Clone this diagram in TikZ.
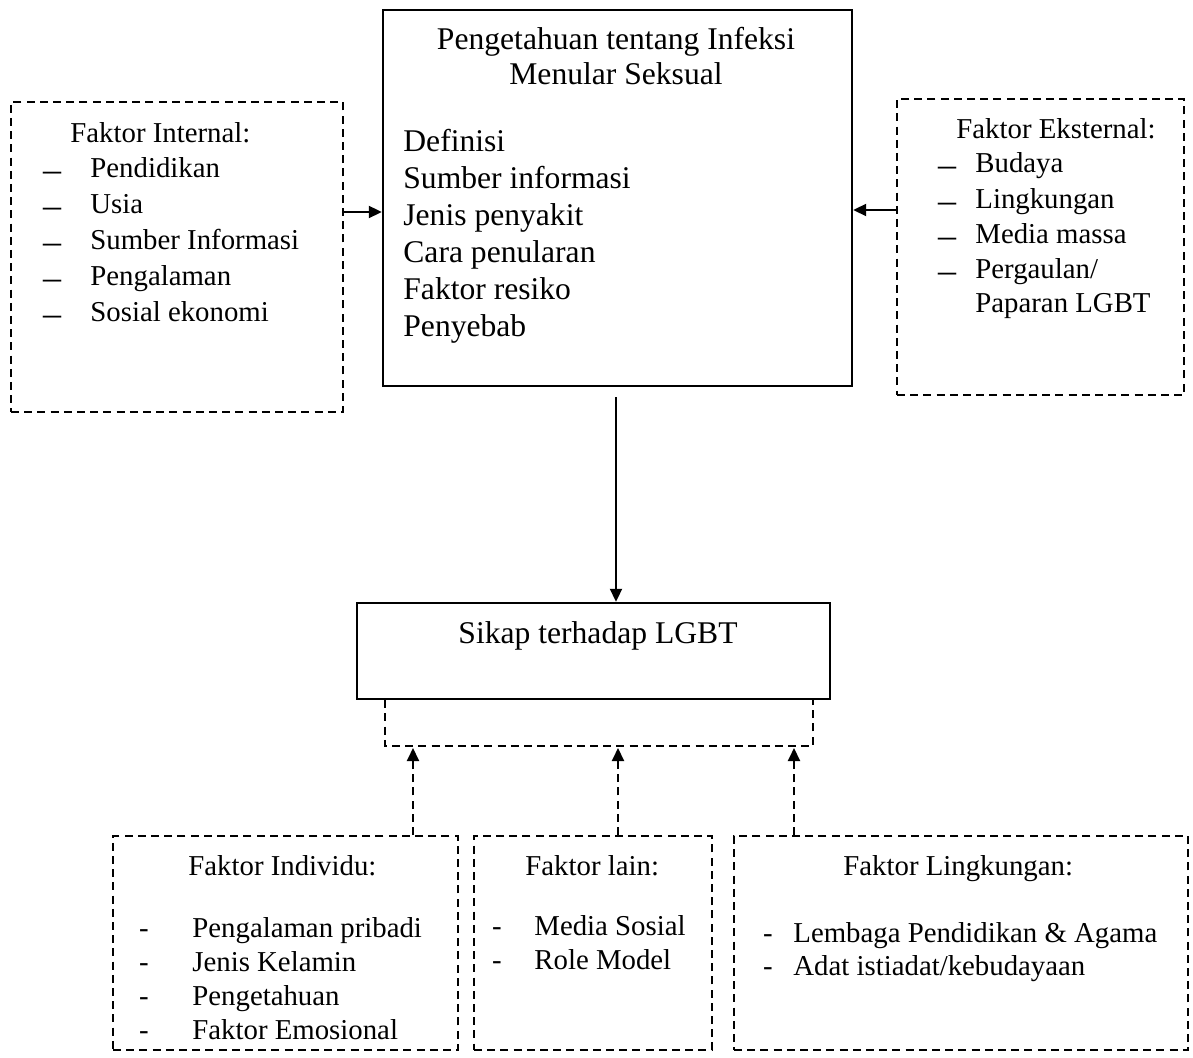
\documentclass[tikz,border=0pt]{standalone}
\usepackage{fontspec}
\setmainfont{Liberation Serif}
\usetikzlibrary{arrows.meta,fit}
\begin{document}
\begin{tikzpicture}[x=0.5pt,y=-0.5pt,
 solidbox/.style={draw, line width=1.2pt, inner sep=0pt},
 dashbox/.style={draw, line width=1pt, dash pattern=on 4pt off 2.6pt, inner sep=0pt},
 arr/.style={-{Triangle[length=6.5pt,width=6pt]}, line width=1pt},
 darr/.style={arr, dash pattern=on 4pt off 2.6pt},
 dline/.style={line width=1pt, dash pattern=on 4pt off 2.6pt},
 bigtxt/.style={inner sep=0pt, font=\fontsize{15.8}{19}\selectfont},
 midtxt/.style={inner sep=0pt, font=\fontsize{14.4}{17}\selectfont},
 dashtxt/.style={inner sep=0pt, font=\fontsize{18}{20}\selectfont},
 smtxt/.style={inner sep=0pt, font=\fontsize{14.4}{17}\selectfont},
]
\useasboundingbox (0,0) rectangle (1193,1058);
\fill[white] (0,0) rectangle (1193,1058);

% boxes
\node[dashbox, fit={(11,102)(343,412)}] (int) {};
\node[solidbox, fit={(383,10)(852,386)}] (ctr) {};
\node[dashbox, fit={(897,99)(1184,395)}] (ext) {};
\node[solidbox, fit={(357,603)(830,699)}] (sik) {};
\node[dashbox, fit={(113,836)(458,1050)}] (ind) {};
\node[dashbox, fit={(474,836)(712,1050)}] (lain) {};
\node[dashbox, fit={(734,836)(1188,1050)}] (ling) {};

% internal
\node[midtxt, anchor=base west] (intT) at (70,143) {Faktor Internal:};
\foreach \t/\y [count=\i] in {Pendidikan/178, Usia/214, Sumber Informasi/250, Pengalaman/286, Sosial ekonomi/322} {
  \node[dashtxt, anchor=base] (intD\i) at (52,\y+4) {\textendash};
  \node[midtxt, anchor=base west] (intI\i) at (90,\y) {\t};
}

% centre
\node[bigtxt, anchor=base] (ctrT1) at (616,50) {Pengetahuan tentang Infeksi};
\node[bigtxt, anchor=base] (ctrT2) at (616,85) {Menular Seksual};
\foreach \t/\y [count=\i] in {Definisi/152, Sumber informasi/189, Jenis penyakit/226, Cara penularan/263, Faktor resiko/300, Penyebab/337} {
  \node[bigtxt, anchor=base west] (ctrI\i) at (403,\y) {\t};
}

% external
\node[midtxt, anchor=base west] (extT) at (956,139) {Faktor Eksternal:};
\foreach \t/\y [count=\i] in {Budaya/173, Lingkungan/209, Media massa/244, Pergaulan\slash/279} {
  \node[dashtxt, anchor=base] (extD\i) at (947,\y+4) {\textendash};
  \node[midtxt, anchor=base west] (extI\i) at (975,\y) {\t};
}
\node[midtxt, anchor=base west] (extI5) at (975,313) {Paparan LGBT};

% sikap
\node[bigtxt, anchor=base] (sikT) at (598,643) {Sikap terhadap LGBT};

% individu
\node[smtxt, anchor=base west] (indT) at (188,875) {Faktor Individu:};
\foreach \t/\y [count=\i] in {Pengalaman pribadi/937, Jenis Kelamin/971, Pengetahuan/1005, Faktor Emosional/1039} {
  \node[smtxt, anchor=base] (indD\i) at (144,\y) {-};
  \node[smtxt, anchor=base west] (indI\i) at (192,\y) {\t};
}

% lain
\node[smtxt, anchor=base west] (lainT) at (525,875) {Faktor lain:};
\foreach \t/\y [count=\i] in {Media Sosial/935, Role Model/969} {
  \node[smtxt, anchor=base] (lainD\i) at (497,\y) {-};
  \node[smtxt, anchor=base west] (lainI\i) at (534,\y) {\t};
}

% lingkungan
\node[smtxt, anchor=base west] (lingT) at (843,875) {Faktor Lingkungan:};
\foreach \t/\y [count=\i] in {Lembaga Pendidikan \& Agama/942, Adat istiadat\slash kebudayaan/975} {
  \node[smtxt, anchor=base] (lingD\i) at (768,\y) {-};
  \node[smtxt, anchor=base west] (lingI\i) at (793,\y) {\t};
}

% connectors
\coordinate (yA) at (0,212);
\coordinate (yB) at (0,210);
\coordinate (xC) at (616,0);
\draw[arr] (int.east |- yA) -- (ctr.west |- yA);
\draw[arr] (ext.west |- yB) -- (ctr.east |- yB);
\draw[arr] ([yshift=-5pt]ctr.south -| xC) -- (sik.north -| xC);

\coordinate (bl) at (385,746);
\coordinate (br) at (813,746);
\draw[dline] (sik.south -| bl) -- (bl) -- (br) -- (sik.south -| br);

\coordinate (u1) at (413,748);
\coordinate (u2) at (618,748);
\coordinate (u3) at (794,748);
\draw[darr] (ind.north -| u1) -- (u1);
\draw[darr] (lain.north -| u2) -- (u2);
\draw[darr] (ling.north -| u3) -- (u3);
\end{tikzpicture}
\end{document}
